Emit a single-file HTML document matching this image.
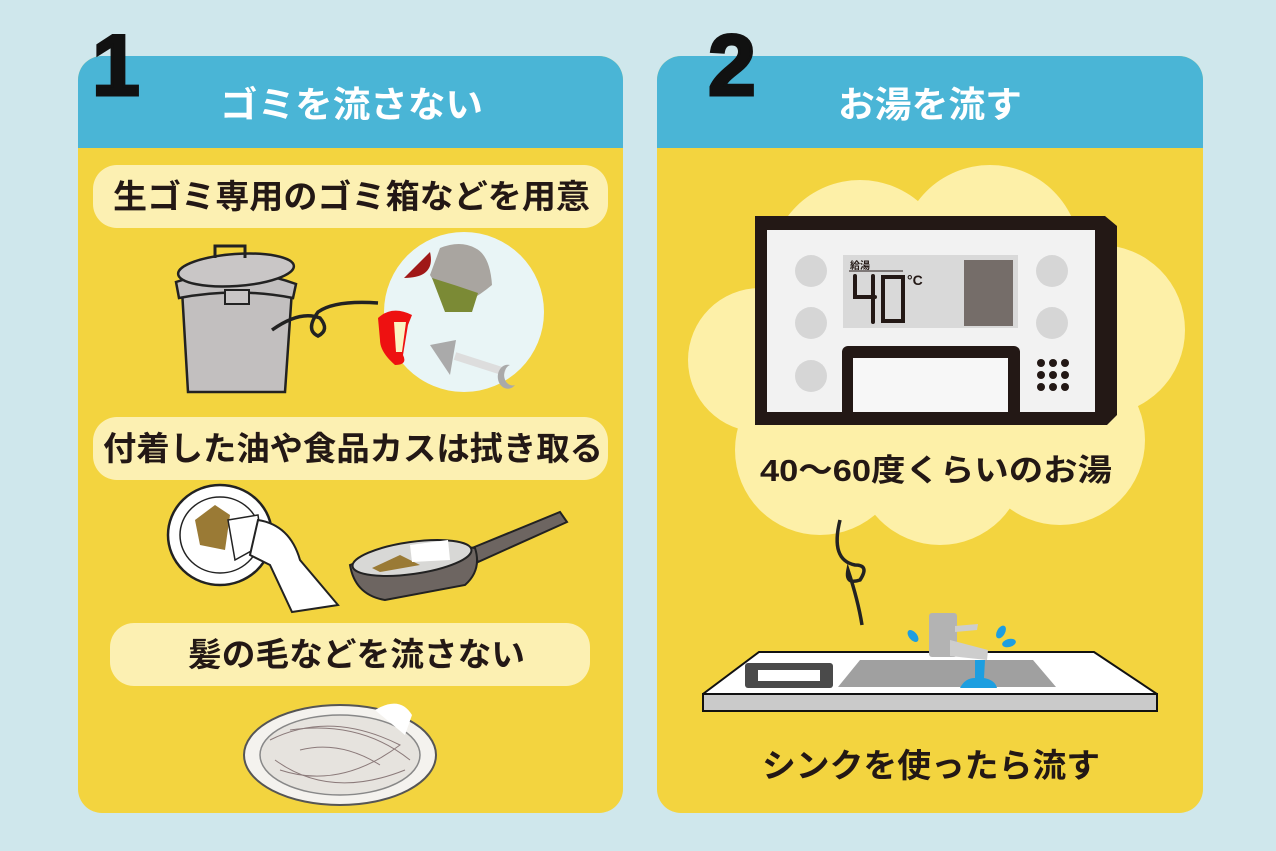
<!DOCTYPE html>
<html><head><meta charset="utf-8"><style>
body{margin:0;background:#cfe7ec}
svg{display:block}
text{font-family:"Liberation Sans","Noto Sans CJK JP",sans-serif;font-weight:bold}
</style></head><body>
<svg width="1276" height="851" viewBox="0 0 1276 851">
<rect width="1276" height="851" fill="#cfe7ec"/>
<!-- left panel -->
<rect x="78" y="56" width="545" height="757" rx="24" fill="#f3d43f"/>
<path d="M78 80 a24 24 0 0 1 24 -24 h497 a24 24 0 0 1 24 24 v68 h-545z" fill="#4ab5d6"/>
<text x="220" y="117" font-size="36" fill="#fff" textLength="263" lengthAdjust="spacingAndGlyphs">ゴミを流さない</text>
<text x="92" y="95" font-size="86" font-weight="900" fill="#111" stroke="#111" stroke-width="3">1</text>
<!-- right panel -->
<rect x="657" y="56" width="546" height="757" rx="24" fill="#f3d43f"/>
<path d="M657 80 a24 24 0 0 1 24 -24 h498 a24 24 0 0 1 24 24 v68 h-546z" fill="#4ab5d6"/>
<text x="838" y="117" font-size="36" fill="#fff" textLength="184" lengthAdjust="spacingAndGlyphs">お湯を流す</text>
<text x="708" y="95" font-size="86" fill="#111" stroke="#111" stroke-width="3">2</text>

<!-- pills -->
<rect x="93" y="165" width="515" height="63" rx="24" fill="#fcf0b2"/>
<text x="113" y="208" font-size="33" fill="#231815" textLength="477" lengthAdjust="spacingAndGlyphs">生ゴミ専用のゴミ箱などを用意</text>
<rect x="93" y="417" width="515" height="63" rx="24" fill="#fcf0b2"/>
<text x="103" y="460" font-size="33" fill="#231815" textLength="500" lengthAdjust="spacingAndGlyphs">付着した油や食品カスは拭き取る</text>
<rect x="110" y="623" width="480" height="63" rx="24" fill="#fcf0b2"/>
<text x="188" y="666" font-size="33" fill="#231815" textLength="337" lengthAdjust="spacingAndGlyphs">髪の毛などを流さない</text>

<!-- trash can -->
<path d="M182 290 L292 290 L285 392 L188 392 Z" fill="#c2bfbf" stroke="#222" stroke-width="2.5"/>
<path d="M176 282 Q236 262 296 284 L293 298 Q236 287 179 298 Z" fill="#c2bfbf" stroke="#222" stroke-width="2.5"/>
<ellipse cx="236" cy="270" rx="58" ry="16" fill="#c9c6c6" stroke="#222" stroke-width="2.5" transform="rotate(-4 236 270)"/>
<path d="M215 258 v-12 h30 v12" fill="none" stroke="#222" stroke-width="3"/>
<rect x="225" y="290" width="24" height="14" fill="#c9c6c6" stroke="#222" stroke-width="2"/>
<path d="M272 330 Q300 310 320 318 Q330 330 318 336 Q305 330 318 312 Q335 300 378 303" fill="none" stroke="#222" stroke-width="3.5"/>
<!-- food circle -->
<circle cx="464" cy="312" r="80" fill="#e9f5f6"/>
<path d="M440 248 Q460 240 475 248 Q490 255 492 285 Q480 295 470 300 L445 300 L430 275 Z" fill="#a9a5a0"/>
<path d="M432 278 Q455 285 478 293 L472 312 L445 312 Z" fill="#7b8a35"/>
<path d="M404 278 L430 252 Q436 278 404 278Z" fill="#a01818"/>
<path d="M378 318 Q392 305 412 315 L408 325 L403 355 Q408 365 395 365 Q380 352 380 340Z" fill="#e11"/>
<path d="M394 322 L406 322 L402 352 L396 352Z" fill="#fbf3c3"/>
<path d="M430 345 L456 340 L450 375 Z" fill="#aaa"/>
<path d="M455 356 L505 372" stroke="#ddd" stroke-width="8"/>
<path d="M510 365 a10 12 0 1 0 5 20 a8 10 0 0 1 -5 -20z" fill="#aaa"/>

<!-- plate -->
<ellipse cx="220" cy="535" rx="52" ry="50" fill="#fff" stroke="#222" stroke-width="2.5"/>
<ellipse cx="220" cy="535" rx="40" ry="38" fill="none" stroke="#222" stroke-width="1.5"/>
<path d="M195 520 L215 505 L230 515 L225 550 L200 545Z" fill="#9a7a35"/>
<path d="M228 520 L258 515 L262 545 L235 560Z" fill="#fff" stroke="#222" stroke-width="1.5"/>
<path d="M258 520 Q290 525 300 560 L338 605 L292 612 L270 565 L250 555 Z" fill="#fff" stroke="#222" stroke-width="2"/>
<!-- pan -->
<path d="M472 548 L560 512 L567 522 L478 562Z" fill="#6d6561" stroke="#222" stroke-width="2"/>
<path d="M350 565 Q410 540 475 548 Q482 570 465 585 L385 600 Q355 595 350 565Z" fill="#6d6561" stroke="#222" stroke-width="2"/>
<ellipse cx="412" cy="558" rx="60" ry="16" fill="#d8d8d6" stroke="#222" stroke-width="2" transform="rotate(-8 412 558)"/>
<path d="M372 568 L400 555 L420 565 L380 572Z" fill="#9a7a35"/>
<path d="M410 545 L448 540 L450 560 L412 562Z" fill="#fff"/>

<!-- hair plate -->
<ellipse cx="340" cy="755" rx="96" ry="50" fill="#f4f2ee" stroke="#555" stroke-width="2"/>
<ellipse cx="340" cy="755" rx="80" ry="40" fill="#e6e3de" stroke="#888" stroke-width="1.5"/>
<g stroke="#8b7a7a" stroke-width="1" fill="none">
<path d="M270 740 Q330 710 400 745 Q340 790 280 770"/><path d="M290 730 Q360 720 410 760"/><path d="M275 760 Q330 800 405 770"/><path d="M300 750 Q340 740 380 765"/>
</g>
<path d="M375 710 Q400 695 412 715 L405 735 Z" fill="#fff"/>

<!-- cloud -->
<g fill="#fdf0a8">
<circle cx="860" cy="270" r="90"/><circle cx="990" cy="255" r="90"/><circle cx="1100" cy="330" r="85"/>
<circle cx="760" cy="360" r="72"/><circle cx="820" cy="450" r="85"/><circle cx="940" cy="460" r="85"/>
<circle cx="1060" cy="440" r="85"/><circle cx="930" cy="360" r="120"/>
</g>
<path d="M840 520 Q830 560 855 565 Q870 565 860 580 Q845 585 848 570 Q858 600 862 625" fill="none" stroke="#222" stroke-width="3.5"/>
<!-- device -->
<path d="M755 216 H1105 L1117 226 V415 L1107 425 H755Z" fill="#231815"/>
<rect x="767" y="230" width="328" height="182" fill="#f2f2f2"/>
<circle cx="811" cy="271" r="16" fill="#d6d6d6"/><circle cx="811" cy="323" r="16" fill="#d6d6d6"/><circle cx="811" cy="376" r="16" fill="#d6d6d6"/>
<circle cx="1052" cy="271" r="16" fill="#d6d6d6"/><circle cx="1052" cy="323" r="16" fill="#d6d6d6"/>
<rect x="843" y="255" width="175" height="73" fill="#d9d9d9"/>
<rect x="964" y="260" width="49" height="66" fill="#756d69"/>
<text x="850" y="269" font-size="10" fill="#231815">給湯</text>
<line x1="849" y1="271" x2="903" y2="271" stroke="#231815" stroke-width="1"/>
<g fill="none" stroke="#231815" stroke-width="4" stroke-linecap="round">
<path d="M855 276 V297 H875 M873 276 V322"/>
<path d="M883 277 H903 V321 H883 Z"/>
</g>
<text x="907" y="285" font-size="14" fill="#231815">°C</text>
<path d="M842 412 V352 a6 6 0 0 1 6 -6 H1014 a6 6 0 0 1 6 6 V412Z" fill="#231815"/>
<rect x="853" y="358" width="155" height="54" fill="#f7f7f7"/>
<g fill="#231815">
<circle cx="1041" cy="363" r="4"/><circle cx="1053" cy="363" r="4"/><circle cx="1065" cy="363" r="4"/>
<circle cx="1041" cy="375" r="4"/><circle cx="1053" cy="375" r="4"/><circle cx="1065" cy="375" r="4"/>
<circle cx="1041" cy="387" r="4"/><circle cx="1053" cy="387" r="4"/><circle cx="1065" cy="387" r="4"/>
</g>
<text x="760" y="481" font-size="31" fill="#231815" textLength="352" lengthAdjust="spacingAndGlyphs">40〜60度くらいのお湯</text>

<!-- sink -->
<path d="M759 652 H1094 L1157 694 V711 H703 V694Z" fill="#fff" stroke="#111" stroke-width="2"/>
<rect x="703" y="694" width="454" height="17" fill="#cacaca" stroke="#111" stroke-width="2"/>
<path d="M860 660 H1033 L1056 687 H838Z" fill="#a0a0a0"/>
<rect x="745" y="663" width="88" height="25" rx="3" fill="#4a4a4a"/>
<rect x="758" y="670" width="62" height="11" fill="#fff"/>
<rect x="929" y="613" width="28" height="44" rx="3" fill="#b3b3b3"/>
<path d="M950 640 L988 650 L987 660 L950 656Z" fill="#cdcdcd"/>
<path d="M955 626 L978 624 L977 630 L955 632Z" fill="#cdcdcd"/>
<path d="M975 660 L985 660 L984 678 Q995 680 997 688 H960 Q965 678 975 678Z" fill="#1d9ee0"/>
<ellipse cx="913" cy="636" rx="4" ry="7" transform="rotate(-40 913 636)" fill="#1d9ee0"/>
<ellipse cx="1001" cy="632" rx="4" ry="7" transform="rotate(30 1001 632)" fill="#1d9ee0"/>
<ellipse cx="1009" cy="643" rx="7" ry="4" transform="rotate(-15 1009 643)" fill="#1d9ee0"/>
<text x="762" y="777" font-size="33" fill="#231815" textLength="338" lengthAdjust="spacingAndGlyphs">シンクを使ったら流す</text>
</svg>
</body></html>
